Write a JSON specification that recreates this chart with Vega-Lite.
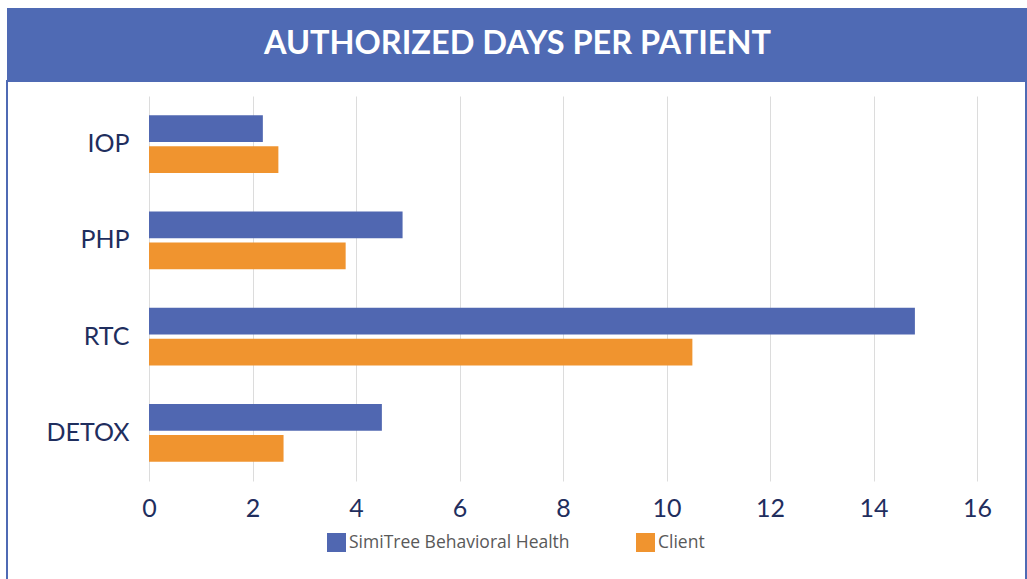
{
  "$schema": "https://vega.github.io/schema/vega-lite/v6.json",
  "padding": {"left": 6, "top": 8, "right": 0, "bottom": 0},
  "background": "white",
  "spacing": 0,
  "config": {"font": "Lato", "concat": {"spacing": 0}},
  "vconcat": [
    {
      "width": 1021,
      "height": 72,
      "view": {"fill": "#4f6ab4", "stroke": null},
      "data": {"values": [{"t": "AUTHORIZED DAYS PER PATIENT"}]},
      "mark": {"type": "text", "color": "white", "font": "Lato", "fontWeight": "bold", "fontSize": 32.5, "baseline": "middle", "align": "center"},
      "encoding": {"text": {"field": "t"}}
    },
    {
      "width": 1019,
      "height": 505,
      "view": {"stroke": "#4f6ab4", "strokeWidth": 2, "fill": "white"},
      "data": {"values": [
        {"category": "IOP", "series": "SimiTree Behavioral Health", "days": 2.2},
        {"category": "IOP", "series": "Client", "days": 2.5},
        {"category": "PHP", "series": "SimiTree Behavioral Health", "days": 4.9},
        {"category": "PHP", "series": "Client", "days": 3.8},
        {"category": "RTC", "series": "SimiTree Behavioral Health", "days": 14.8},
        {"category": "RTC", "series": "Client", "days": 10.5},
        {"category": "DETOX", "series": "SimiTree Behavioral Health", "days": 4.5},
        {"category": "DETOX", "series": "Client", "days": 2.6}
      ]},
      "mark": {"type": "bar"},
      "encoding": {
        "y": {
          "field": "category", "type": "nominal",
          "sort": ["IOP", "PHP", "RTC", "DETOX"],
          "scale": {"range": [15, 400], "paddingInner": 0.4, "paddingOuter": 0.2},
          "axis": {"title": null, "orient": "left", "ticks": false, "tickSize": 0, "domain": false, "grid": false,
                   "labelPadding": -122, "labelFontSize": 25, "labelColor": "#1f2e5e", "labelFont": "Lato", "labelAlign": "right"}
        },
        "yOffset": {
          "field": "series", "type": "nominal",
          "sort": ["SimiTree Behavioral Health", "Client"],
          "scale": {"paddingInner": 0.13, "paddingOuter": 0}
        },
        "x": {
          "field": "days", "type": "quantitative",
          "scale": {"domain": [0, 16], "range": [142, 970], "nice": false},
          "axis": {"title": null, "orient": "top", "values": [0, 2, 4, 6, 8, 10, 12, 14, 16], "ticks": false, "tickSize": 0, "domain": false,
                   "grid": true, "gridColor": "#dcdcdc", "gridWidth": 1, "labelPadding": -427, "labelBaseline": "middle",
                   "labelFlush": false, "labelAlign": "center",
                   "labelFontSize": 25, "labelColor": "#1f2e5e", "labelFont": "Lato"}
        },
        "color": {
          "field": "series", "type": "nominal",
          "scale": {"domain": ["SimiTree Behavioral Health", "Client"], "range": ["#5067b1", "#f0942f"]},
          "legend": {"title": null, "orient": "none", "direction": "horizontal", "legendX": 320, "legendY": 525,
                     "symbolType": "square", "symbolSize": 361, "symbolStrokeWidth": 0, "labelOffset": 3, "labelLimit": 0,
                     "columnPadding": 66, "labelFontSize": 17.5, "labelColor": "#595959", "labelFont": "Open Sans"}
        }
      }
    }
  ]
}
